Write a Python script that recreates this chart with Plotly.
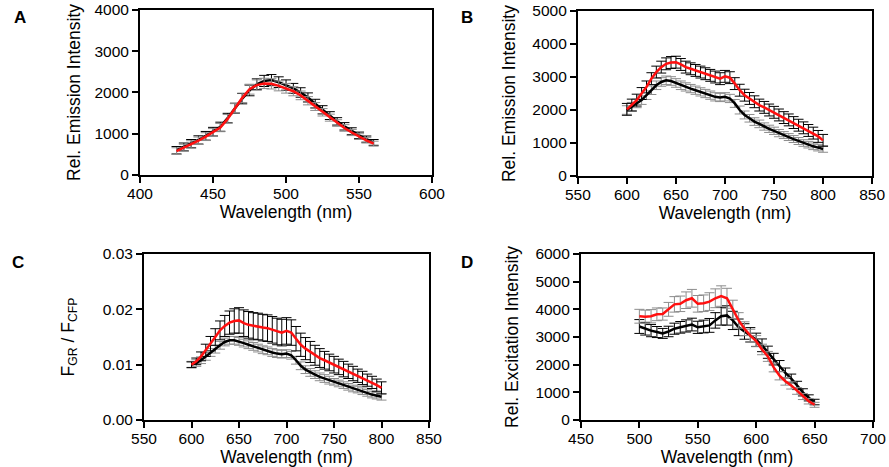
import plotly.graph_objects as go

# ---------- data ----------
wl_a = [425, 430, 435, 440, 445, 450, 455, 460, 465, 470, 475, 480, 485, 490,
        495, 500, 505, 510, 515, 520, 525, 530, 535, 540, 545, 550, 555, 560]
a_black = [600, 680, 760, 850, 950, 1050, 1170, 1380, 1620, 1850, 2050, 2200, 2280, 2300,
           2250, 2180, 2100, 2000, 1880, 1730, 1580, 1440, 1300, 1180, 1060, 960, 870, 790]
a_black_err = [90, 95, 100, 100, 105, 105, 110, 115, 120, 125, 130, 130, 135, 135,
               130, 125, 120, 115, 110, 105, 100, 95, 90, 90, 85, 80, 75, 70]
a_red = [580, 660, 740, 830, 930, 1030, 1150, 1360, 1620, 1870, 2080, 2180, 2220, 2210,
         2160, 2100, 2030, 1930, 1800, 1660, 1520, 1390, 1260, 1140, 1030, 930, 840, 760]
a_red_err = [80, 85, 90, 90, 95, 95, 100, 105, 110, 115, 120, 125, 125, 125,
             120, 115, 110, 105, 100, 95, 90, 85, 80, 80, 75, 70, 65, 60]

wl_b = [600, 605, 610, 615, 620, 625, 630, 635, 640, 645, 650, 655, 660, 665, 670, 675,
        680, 685, 690, 695, 700, 705, 710, 715, 720, 725, 730, 735, 740, 745, 750, 755,
        760, 765, 770, 775, 780, 785, 790, 795, 800]
b_black = [2000, 2100, 2200, 2300, 2450, 2600, 2750, 2850, 2900, 2880, 2820, 2750, 2700, 2650,
           2600, 2550, 2500, 2450, 2400, 2380, 2400, 2350, 2200, 2000, 1850, 1750, 1650, 1580,
           1500, 1430, 1370, 1300, 1240, 1180, 1120, 1060, 1000, 950, 900, 860, 820]
b_black_err = [130, 130, 130, 130, 130, 130, 130, 130, 130, 130, 130, 130, 125, 125,
               125, 125, 125, 125, 125, 125, 125, 125, 120, 120, 120, 115, 115, 115,
               110, 110, 110, 110, 105, 105, 105, 105, 100, 100, 100, 100, 100]
b_red = [2020, 2150, 2300, 2500, 2700, 2950, 3150, 3300, 3400, 3440, 3450, 3380, 3300, 3250,
         3200, 3150, 3100, 3050, 3000, 2950, 3020, 2980, 2800, 2600, 2450, 2350, 2250, 2150,
         2080, 2000, 1930, 1850, 1770, 1700, 1620, 1540, 1460, 1380, 1300, 1200, 1080]
b_red_err = [180, 180, 180, 180, 180, 180, 180, 180, 180, 180, 180, 180, 180, 180,
             180, 180, 180, 180, 180, 180, 180, 180, 180, 180, 180, 180, 180, 180,
             180, 180, 180, 180, 180, 180, 180, 180, 180, 180, 180, 180, 180]

wl_c = wl_b
c_black = [0.0100, 0.0103, 0.0108, 0.0115, 0.0122, 0.0128, 0.0135, 0.0141, 0.0144, 0.0144,
           0.0142, 0.0139, 0.0136, 0.0133, 0.0130, 0.0127, 0.0125, 0.0122, 0.0120, 0.0119,
           0.0120, 0.0117, 0.0108, 0.0098, 0.0091, 0.0086, 0.0082, 0.0078, 0.0075, 0.0072,
           0.0069, 0.0066, 0.0063, 0.0060, 0.0057, 0.0055, 0.0052, 0.0049, 0.0046, 0.0044, 0.0042]
c_black_err = [0.0006, 0.0006, 0.0006, 0.0007, 0.0007, 0.0007, 0.0007, 0.0007, 0.0007, 0.0007,
               0.0007, 0.0007, 0.0007, 0.0007, 0.0007, 0.0007, 0.0007, 0.0007, 0.0007, 0.0007,
               0.0007, 0.0007, 0.0007, 0.0007, 0.0007, 0.0007, 0.0007, 0.0007, 0.0007, 0.0007,
               0.0006, 0.0006, 0.0006, 0.0006, 0.0006, 0.0006, 0.0006, 0.0006, 0.0006, 0.0006, 0.0006]
c_red = [0.0100, 0.0106, 0.0115, 0.0126, 0.0138, 0.0150, 0.0162, 0.0170, 0.0176, 0.0179,
         0.0180, 0.0175, 0.0172, 0.0170, 0.0169, 0.0167, 0.0166, 0.0163, 0.0160, 0.0158,
         0.0161, 0.0158, 0.0147, 0.0136, 0.0129, 0.0123, 0.0117, 0.0112, 0.0108, 0.0104,
         0.0100, 0.0096, 0.0092, 0.0088, 0.0084, 0.0080, 0.0076, 0.0072, 0.0068, 0.0063, 0.0058]
c_red_err = [0.0005, 0.0006, 0.0008, 0.0011, 0.0013, 0.0015, 0.0017, 0.0019, 0.0021, 0.0022,
             0.0023, 0.0024, 0.0024, 0.0024, 0.0024, 0.0024, 0.0024, 0.0024, 0.0024, 0.0024,
             0.0024, 0.0023, 0.0022, 0.0021, 0.0020, 0.0019, 0.0018, 0.0017, 0.0016, 0.0015,
             0.0015, 0.0014, 0.0014, 0.0013, 0.0013, 0.0012, 0.0012, 0.0011, 0.0011, 0.0011, 0.0011]

wl_d = [500, 505, 510, 515, 520, 525, 530, 535, 540, 545, 550, 555, 560, 565, 570, 575,
        580, 585, 590, 595, 600, 605, 610, 615, 620, 625, 630, 635, 640, 645, 650]
d_black = [3380, 3300, 3230, 3180, 3130, 3200, 3300, 3350, 3400, 3450, 3350, 3380, 3420, 3600,
           3750, 3780, 3600, 3350, 3200, 3080, 2900, 2700, 2450, 2200, 1950, 1700, 1500, 1250,
           1000, 800, 650]
d_black_err = [250, 230, 220, 200, 180, 190, 200, 210, 220, 230, 220, 230, 250, 280,
               320, 350, 330, 300, 280, 260, 240, 230, 220, 210, 200, 180, 160, 150,
               130, 110, 100]
d_red = [3750, 3730, 3750, 3820, 3830, 4000, 4180, 4200, 4330, 4400, 4200, 4220, 4280, 4400,
         4480, 4400, 4000, 3600, 3300, 3050, 2850, 2550, 2300, 1900, 1600, 1400, 1250, 1050,
         850, 680, 550]
d_red_err = [250, 240, 240, 230, 220, 250, 280, 280, 300, 320, 300, 300, 320, 340,
             370, 360, 330, 280, 250, 230, 200, 190, 180, 160, 150, 140, 130, 120,
             110, 100, 90]

RED = "#ff1010"
GREY = "#8c8c8c"
FONT = "Liberation Sans"

panels = [
    (wl_a, a_black, a_black_err, a_red, a_red_err, "black", GREY),
    (wl_b, b_black, b_black_err, b_red, b_red_err, GREY, "black"),
    (wl_c, c_black, c_black_err, c_red, c_red_err, GREY, "black"),
    (wl_d, d_black, d_black_err, d_red, d_red_err, "black", GREY),
]

fig = go.Figure()
for i, (x, yb, eb, yr, er, cb, cr) in enumerate(panels):
    ax = "" if i == 0 else str(i + 1)
    for y, e, lc, ec in [(yb, eb, "black", cb), (yr, er, RED, cr)]:
        fig.add_trace(go.Scatter(
            x=x, y=y, mode="lines",
            line=dict(color=lc, width=2.5),
            error_y=dict(type="data", array=e, visible=True, color=ec,
                         thickness=1, width=5),
            xaxis="x" + ax, yaxis="y" + ax, showlegend=False,
            hoverinfo="x+y"))

xdom = [[0.1575, 0.486], [0.650, 0.981], [0.162, 0.4826], [0.6535, 0.982]]
ydom = [[0.6253, 0.9786], [0.6231, 0.9764], [0.1006, 0.4561], [0.1006, 0.4561]]
xr = [[400, 600], [550, 850], [550, 850], [450, 700]]
yr_ = [[0, 4000], [0, 5000], [0, 0.03], [0, 6000]]
yd = [1000, 1000, 0.01, 1000]
yfmt = ["", "", ".2f", ""]
ytitles = ["Rel. Emission Intensity", "Rel. Emission Intensity",
           "F<sub>GR</sub> / F<sub>CFP</sub>", "Rel. Excitation Intensity"]
ystand = [9, 12, 24, 12]

TICKF = dict(family=FONT, size=15.5, color="black")
TITLEF = dict(family=FONT, size=17.5, color="black")

layout = {}
for i in range(4):
    k = "" if i == 0 else str(i + 1)
    layout["xaxis" + k] = dict(domain=xdom[i], range=xr[i], dtick=50, tick0=0,
                               anchor="y" + k, automargin=False, ticklabelstandoff=-3,
                               title=dict(text="Wavelength (nm)", standoff=0, font=TITLEF))
    layout["yaxis" + k] = dict(domain=ydom[i], range=yr_[i], dtick=yd[i], tick0=0,
                               anchor="x" + k, tickformat=yfmt[i], automargin=False,
                               title=dict(text=ytitles[i], standoff=ystand[i], font=TITLEF))

fig.update_layout(**layout)
fig.update_xaxes(showline=True, linecolor="black", linewidth=2, mirror=True,
                 ticks="outside", ticklen=6, tickwidth=2, tickcolor="black",
                 showgrid=False, zeroline=False, tickfont=TICKF)
fig.update_yaxes(showline=True, linecolor="black", linewidth=2, mirror=True,
                 ticks="outside", ticklen=6, tickwidth=2, tickcolor="black",
                 showgrid=False, zeroline=False, tickfont=TICKF)

letters = [("A", 20, 18), ("B", 467, 17), ("C", 18, 262), ("D", 467, 262)]
for t, px, py in letters:
    fig.add_annotation(text="<b>%s</b>" % t, x=px / 889, y=1 - py / 467,
                       xref="paper", yref="paper", showarrow=False,
                       xanchor="center", yanchor="middle",
                       font=dict(family=FONT, size=17, color="black"))

fig.update_layout(width=889, height=467, margin=dict(l=0, r=0, t=0, b=0, autoexpand=False),
                  paper_bgcolor="white", plot_bgcolor="white",
                  font=dict(family=FONT, size=15.5, color="black"))

fig.write_html("out.html")
